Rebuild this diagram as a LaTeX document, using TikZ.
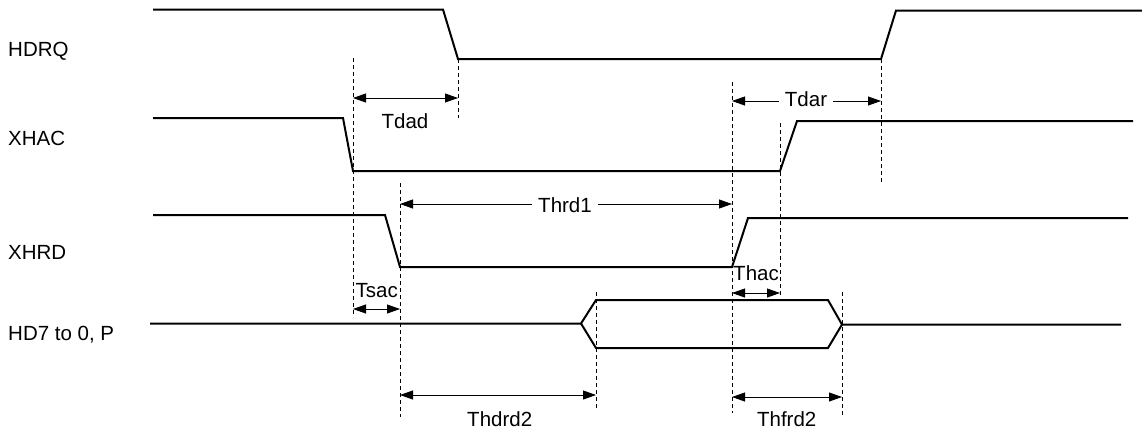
\documentclass[tikz,border=0pt]{standalone}
\usepackage{fontspec}
\setmainfont{Liberation Sans}
\usetikzlibrary{arrows.meta}
\begin{document}
\begin{tikzpicture}[x=1pt,y=-1pt,
  font=\fontsize{20.5}{24}\selectfont,
  sig/.style={line width=2pt, line join=miter},
  guide/.style={line width=0.8pt, dash pattern=on 4pt off 3pt},
  dim/.style={line width=0.8pt, {Triangle[length=13pt,width=9pt]}-{Triangle[length=13pt,width=9pt]}},
  lbl/.style={anchor=base west, inner sep=0pt},
  tlab/.style={anchor=base, inner sep=0pt},
  gaplab/.style={anchor=base, inner xsep=6pt, inner ysep=0pt, fill=white}]
\useasboundingbox (0,0) rectangle (1142,432);

% signal names
\node[lbl] (nHDRQ) at (8,56.5) {HDRQ};
\node[lbl] (nXHAC) at (8,145.7) {XHAC};
\node[lbl] (nXHRD) at (8,259) {XHRD};
\node[lbl] (nHD) at (8,340.5) {HD7 to 0, P};

% waveforms
\draw[sig] (153,9.5) -- (443,9.5) -- (458,59) -- (881,59) -- (896,10.5) -- (1142,10.5);
\draw[sig] (153,118) -- (343,118) -- (353,171) -- (780,171) -- (797,121) -- (1133,121);
\draw[sig] (153,215) -- (385,215) -- (400,267) -- (732,267) -- (748,218) -- (1128,218);
\draw[sig] (150,323.5) -- (581,323.5) -- (596,300) -- (828,300) -- (842,324.5) -- (1121,324.5);
\draw[sig] (581,323.5) -- (596,348) -- (828,348) -- (842,324.5);

% guide lines
\coordinate (g1t) at (353,58);  \coordinate (g1b) at (353,317);
\coordinate (g2t) at (458,59);  \coordinate (g2b) at (458,118);
\coordinate (g3t) at (400,183); \coordinate (g3b) at (400,417);
\coordinate (g4t) at (732,82);  \coordinate (g4b) at (732,413);
\coordinate (g5t) at (780,123); \coordinate (g5b) at (780,295);
\coordinate (g6t) at (881,59);  \coordinate (g6b) at (881,182);
\coordinate (g7t) at (596,292); \coordinate (g7b) at (596,409);
\coordinate (g8t) at (842,292); \coordinate (g8b) at (842,415);
\foreach \g in {1,...,8} \draw[guide] (g\g t) -- (g\g b);

% dimension arrows
\coordinate (tdadL) at (353,98);  \coordinate (tdadR) at (458,98);
\coordinate (tdarL) at (732,101); \coordinate (tdarR) at (881,101);
\coordinate (thrdL) at (400,204); \coordinate (thrdR) at (732,204);
\coordinate (tsacL) at (353,309); \coordinate (tsacR) at (400,309);
\coordinate (thacL) at (732,293); \coordinate (thacR) at (780,293);
\coordinate (thd2L) at (400,395); \coordinate (thd2R) at (596,395);
\coordinate (thf2L) at (732,397); \coordinate (thf2R) at (842,397);

\draw[dim] (tdadL) -- (tdadR);
\draw[dim] (tdarL) -- (tdarR);
\draw[dim] (thrdL) -- (thrdR);
\draw[dim] (tsacL) -- (tsacR);
\draw[dim] (thacL) -- (thacR);
\draw[dim] (thd2L) -- (thd2R);
\draw[dim] (thf2L) -- (thf2R);

% timing labels
\node[tlab] (lTdad) at (405,128) {Tdad};
\node[gaplab] (lTdar) at (806,106.7) {Tdar};
\node[gaplab] (lThrd1) at (565,212.7) {Thrd1};
\node[tlab] (lTsac) at (376.7,297.3) {Tsac};
\node[tlab] (lThac) at (756,280) {Thac};
\node[tlab] (lThdrd2) at (499.7,426) {Thdrd2};
\node[tlab] (lThfrd2) at (786.7,426.5) {Thfrd2};
\end{tikzpicture}
\end{document}
